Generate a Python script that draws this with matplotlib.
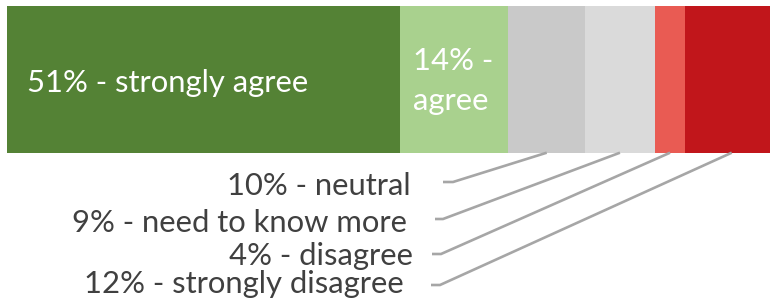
import matplotlib
matplotlib.use("Agg")
import matplotlib.pyplot as plt
import numpy as np

# ---- data ----
categories = ["strongly agree", "agree", "neutral", "need to know more", "disagree", "strongly disagree"]
values = [51, 14, 10, 9, 4, 12]
colors = ["#548235", "#A9D18E", "#C9C9C9", "#DADADA", "#E95B53", "#C1161B"]
labels = [f"{v}% - {c}" for v, c in zip(values, categories)]

W, H = 770, 304
plt.rcParams['font.family'] = ['Lato', 'DejaVu Sans']
fig = plt.figure(figsize=(W / 100, H / 100), dpi=100)
ax = fig.add_axes([0, 0, 1, 1])

# pixel layout helpers
X0 = 7.0           # left edge of bar (px)
S = 7.71           # px per percent
def px(x):
    return (x - X0) / S

ax.set_xlim(px(0), px(W))
ax.set_ylim(H, 0)
ax.axis("off")

bar_top, bar_bot = 6.0, 152.7
lefts = np.concatenate([[0], np.cumsum(values)[:-1]])
ax.barh([(bar_top + bar_bot) / 2] * len(values), values, left=lefts,
        height=bar_bot - bar_top, color=colors, edgecolor="none")

FS = 22.3
# inside labels
ax.text(px(27), 92, labels[0], color="white", fontsize=FS, ha="left", va="baseline")
ax.text(px(413), 70, f"{values[1]}% -", color="white", fontsize=FS, ha="left", va="baseline")
ax.text(px(413), 110, categories[1], color="white", fontsize=FS, ha="left", va="baseline")

# outside labels with leader lines
txt_right = [411, 407, 413, 404]
txt_base = [195, 232, 265, 293]
elbow = [(453, 182), (443, 219), (441, 254), (440, 285)]
h_end = [443, 435, 432, 431]
for i, k in enumerate(range(2, 6)):
    center = lefts[k] + values[k] / 2
    ex, ey = elbow[i]
    ax.plot([center, px(ex), px(h_end[i])], [bar_bot, ey, ey],
            color="#A6A6A6", lw=1.9, solid_capstyle="butt", solid_joinstyle="miter")
    ax.text(px(txt_right[i]), txt_base[i], labels[k], color="#404040", fontsize=FS,
            ha="right", va="baseline")

fig.savefig("out.png", dpi=100)
